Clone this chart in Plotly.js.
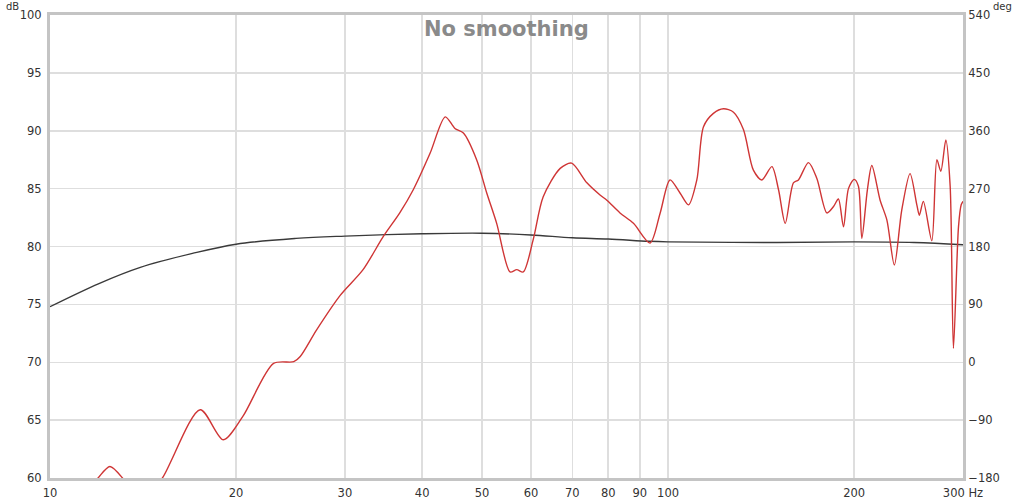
<!DOCTYPE html>
<html>
<head>
<meta charset="utf-8">
<script src="https://cdn.plot.ly/plotly-3.0.1.min.js"></script>
<style>html,body{margin:0;padding:0;background:#fff;}#chart{width:1024px;height:502px;}</style>
</head>
<body>
<div id="chart"></div>
<script>
// SPL (red) trace, Hz / dB
const splFreq = [10, 11, 11.96, 12.5, 13.1, 14, 15.2, 17.5, 19.07, 20.5, 23.0, 24.8, 25.4, 27.0, 29.5, 32.1, 34.6, 36.8, 38.7, 41.2, 43.6, 45.2, 46.65, 49.0, 50.9, 52.8, 55.5, 56.9, 58.3, 60.5, 62.8, 66.9, 69.8, 73.9, 77.6, 79.6, 83.6, 87.9, 93.5, 97.1, 100.7, 104.6, 107.9, 111.3, 114.1, 118.4, 122.9, 127.6, 132.4, 137.4, 141.8, 147.2, 150.9, 154.7, 159.5, 162.5, 168.7, 174.0, 180.7, 185.2, 188.6, 192.2, 195.8, 200, 203.2, 205.8, 210.1, 213.6, 220.3, 225.9, 232.3, 238.8, 246.3, 252.6, 255, 258.8, 267.1, 272.2, 276.2, 281.4, 286.0, 289.5, 295.0, 298, 300];
const splDb = [54, 57.5, 60, 61.0, 60, 57.5, 60, 65.9, 63.3, 65.3, 69.9, 70.05, 70.5, 72.8, 75.8, 78.0, 80.85, 82.9, 84.9, 88.05, 91.2, 90.2, 89.8, 87.5, 84.6, 82.0, 77.8, 78.0, 77.8, 80.6, 84.3, 86.75, 87.2, 85.5, 84.45, 84.0, 82.9, 82.0, 80.3, 82.9, 85.75, 84.6, 83.6, 85.75, 90.35, 91.5, 91.9, 91.6, 90.1, 86.6, 85.75, 86.9, 84.9, 82.0, 85.5, 85.75, 87.25, 85.9, 82.9, 83.45, 84.1, 81.7, 85.0, 85.8, 85.2, 80.7, 84.9, 87.0, 84.0, 82.3, 78.4, 83.15, 86.3, 83.6, 82.7, 83.9, 80.5, 87.5, 86.5, 89.2, 85.2, 71.2, 81.7, 83.6, 83.9];
// Black trace, Hz / dB
const refFreq = [10, 12, 14, 17, 20, 25, 30, 40, 50, 60, 70, 80, 93, 100, 150, 200, 250, 300];
const refDb = [74.8, 76.8, 78.2, 79.4, 80.2, 80.7, 80.9, 81.1, 81.15, 81.0, 80.75, 80.65, 80.45, 80.4, 80.35, 80.4, 80.35, 80.15];
// Axis tick labels
const xTickVals = [10, 20, 30, 40, 50, 60, 70, 80, 90, 100, 200, 300];
const xTickText = ["10", "20", "30", "40", "50", "60", "70", "80", "90", "100", "200", "300 Hz"];
const dbTicks = [60, 65, 70, 75, 80, 85, 90, 95, 100];
const degTicks = [-180, -90, 0, 90, 180, 270, 360, 450, 540];

const tickFont = {family: "DejaVu Sans, sans-serif", size: 11.5, color: "#333"};
const frame = "#c4c4c4";
const grid = "#dedede";

const traces = [
  {x: refFreq, y: refDb, type: "scatter", mode: "lines", line: {color: "#3a3a3a", width: 1.4, shape: "spline", smoothing: 1}, hoverinfo: "skip"},
  {x: splFreq, y: splDb, type: "scatter", mode: "lines", line: {color: "#cf3535", width: 1.4, shape: "spline", smoothing: 0.8}, hoverinfo: "skip"},
  {x: [10, 300], y: [0, 0], yaxis: "y2", type: "scatter", mode: "lines", line: {width: 0}, hoverinfo: "skip", showlegend: false}
];

const layout = {
  width: 1024, height: 502,
  margin: {l: 50, r: 61, t: 15, b: 24, pad: 0},
  paper_bgcolor: "#fff", plot_bgcolor: "#fff",
  showlegend: false, hovermode: false,
  xaxis: {
    type: "log", range: [1, Math.log10(300)],
    tickvals: xTickVals, ticktext: xTickText,
    tickfont: tickFont, ticks: "outside", ticklen: 2, tickcolor: "rgba(0,0,0,0)",
    showgrid: true, gridcolor: grid, gridwidth: 1.5,
    showline: true, linecolor: frame, linewidth: 3, mirror: true, zeroline: false
  },
  yaxis: {
    range: [60, 100], tickvals: dbTicks,
    tickfont: tickFont, ticks: "outside", ticklen: 3, tickcolor: "rgba(0,0,0,0)",
    showgrid: true, gridcolor: grid, gridwidth: 1.5,
    showline: true, linecolor: frame, linewidth: 3, mirror: true, zeroline: false
  },
  yaxis2: {
    overlaying: "y", side: "right", range: [-180, 540], tickvals: degTicks,
    tickfont: tickFont, ticks: "outside", ticklen: 2, tickcolor: "rgba(0,0,0,0)",
    showgrid: false, zeroline: false, showline: false
  },
  annotations: [
    {text: "No smoothing", xref: "paper", yref: "paper", x: 0.5, y: 0.97, xanchor: "center", yanchor: "middle", showarrow: false,
     font: {family: "DejaVu Sans, sans-serif", size: 21, color: "#8a8a8a", weight: "bold"}},
    {text: "dB", xref: "paper", yref: "paper", x: 0, y: 1.0, xanchor: "right", yanchor: "bottom", xshift: -30, yshift: 2, borderpad: 0, showarrow: false,
     font: {family: "DejaVu Sans, sans-serif", size: 10, color: "#333"}},
    {text: "deg", xref: "paper", yref: "paper", x: 1.0, y: 1.0, xanchor: "left", yanchor: "bottom", xshift: 29, yshift: 2, borderpad: 0, showarrow: false,
     font: {family: "DejaVu Sans, sans-serif", size: 10, color: "#333"}}
  ]
};

Plotly.newPlot("chart", traces, layout, {staticPlot: true, displayModeBar: false});
</script>
</body>
</html>
